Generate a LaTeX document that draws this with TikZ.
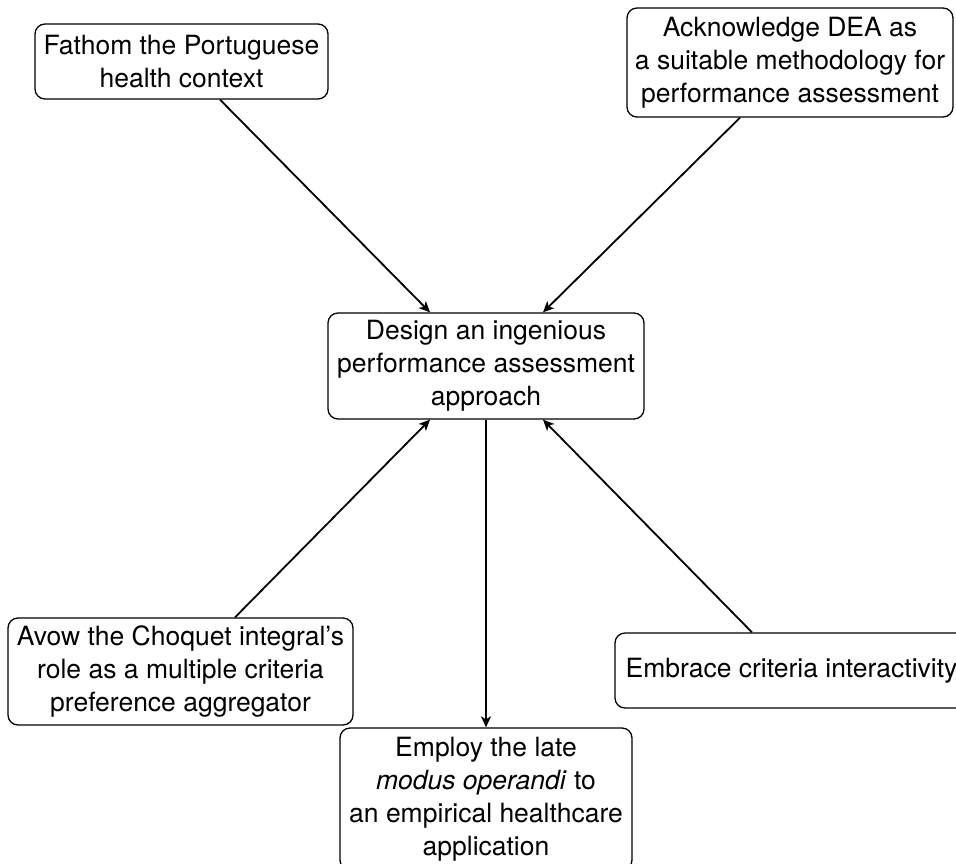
\documentclass[tikz,border=0pt]{standalone}
\usepackage{fontspec}
\setmainfont{TeX Gyre Heros}
\usetikzlibrary{arrows.meta}
\begin{document}
\begin{tikzpicture}[x=1pt, y=-1pt,
  box/.style={draw, rounded corners=10pt, line width=1.3pt, align=center,
    inner sep=0pt, font=\fontsize{26.5}{33}\selectfont},
  arr/.style={line width=1.8pt, -{Stealth[length=11pt, width=10pt, inset=3pt]}}]
  \useasboundingbox (0,0) rectangle (956,863);
  \clip (0,0) rectangle (956,863);

  % surrounding steps
  \node[box, minimum width=293pt, minimum height=75pt] (fathom) at (181.5,61.5)
    {Fathom the Portuguese\\health context};
  \node[box, minimum width=326pt, minimum height=109pt] (ack) at (790,62.5)
    {Acknowledge DEA as\\a suitable methodology for\\performance assessment};
  \node[box, minimum width=316pt, minimum height=106pt] (hub) at (486,366)
    {Design an ingenious\\performance assessment\\approach};
  \node[box, minimum width=345pt, minimum height=107pt] (avow) at (180.5,671.5)
    {Avow the Choquet integral's\\role as a multiple criteria\\preference aggregator};
  \node[box, minimum width=353pt, minimum height=75pt] (embrace) at (791.5,670.5)
    {Embrace criteria interactivity};
  \node[box, minimum width=292pt, minimum height=142pt] (employ) at (486,799)
    {Employ the late\\\textit{modus operandi} to\\an empirical healthcare\\application};

  % connectors into and out of the central step
  \draw[arr] ([xshift=38.5pt]fathom.south) -- ([xshift=-56pt]hub.north);
  \draw[arr] ([xshift=-50pt]ack.south) -- ([xshift=57pt]hub.north);
  \draw[arr] ([xshift=54.5pt]avow.north) -- ([xshift=-56pt]hub.south);
  \draw[arr] ([xshift=-39.5pt]embrace.north) -- ([xshift=57pt]hub.south);
  \draw[arr] (hub.south) -- (employ.north);
\end{tikzpicture}
\end{document}
